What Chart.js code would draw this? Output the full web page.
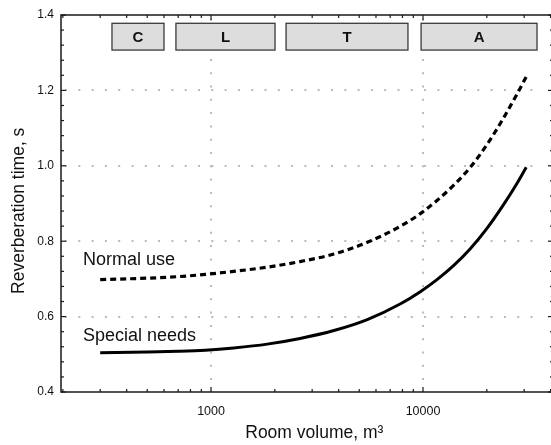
<!DOCTYPE html>
<html>
<head>
<meta charset="utf-8">
<script src="https://cdn.jsdelivr.net/npm/chart.js@4"></script>
<style>
  html, body { margin: 0; padding: 0; overflow: hidden; background: #fff; }
</style>
</head>
<body>
<canvas id="chart" width="556" height="445"></canvas>
<script>
// room volume, m3
const volumes = [300, 500, 700, 940, 1280, 1840, 2630, 3800, 5460, 7840, 9710, 11640, 13930, 16710, 20030, 23990, 27740, 30690]
// reverberation time, s
const normalUse = [0.698, 0.702, 0.706, 0.712, 0.720, 0.731, 0.746, 0.766, 0.797, 0.840, 0.873, 0.908, 0.948, 0.996, 1.056, 1.127, 1.190, 1.236]
const specialNeeds = [0.504, 0.506, 0.508, 0.511, 0.517, 0.527, 0.542, 0.563, 0.592, 0.634, 0.666, 0.698, 0.735, 0.780, 0.834, 0.897, 0.953, 0.996]

// room type bands along the top
const zoneLabels = ['C', 'L', 'T', 'A']
const zoneFrom = [341, 683, 2259, 9794]
const zoneTo = [600, 2004, 8492, 34500]
const zoneBottom = 1.307
const zoneTop = 1.378

const xTickLabels = [1000, 10000]
const yTickLabels = [0.4, 0.6, 0.8, 1.0, 1.2, 1.4]
const gridX = [1000, 10000]
const gridY = [0.6, 0.8, 1.0, 1.2]

const curveNotes = [
  { text: 'Normal use', x: 249, y: 0.75 },
  { text: 'Special needs', x: 249, y: 0.549 }
]

const font = "'Liberation Sans', Arial, sans-serif"

const decorations = {
  id: 'decorations',
  beforeDatasetsDraw (chart) {
    const { ctx, chartArea: a, scales: { x, y } } = chart
    ctx.save()
    ctx.strokeStyle = '#a9bed1'
    ctx.lineWidth = 2
    ctx.setLineDash([2, 11.3])
    gridY.forEach(v => {
      const py = Math.round(y.getPixelForValue(v))
      ctx.beginPath()
      ctx.moveTo(a.left + 4, py)
      ctx.lineTo(a.right - 14, py)
      ctx.stroke()
    })
    gridX.forEach(v => {
      const px = Math.round(x.getPixelForValue(v))
      ctx.beginPath()
      ctx.moveTo(px, a.top + 4)
      ctx.lineTo(px, a.bottom)
      ctx.stroke()
    })
    ctx.restore()
  },
  afterDatasetsDraw (chart) {
    const { ctx, chartArea: a, scales: { x, y } } = chart
    ctx.save()

    // frame
    ctx.strokeStyle = '#1a1a1a'
    ctx.lineWidth = 1.5
    ctx.strokeRect(a.left, a.top, a.right - a.left, a.bottom - a.top)

    // inward ticks
    ctx.lineWidth = 1.2
    const tick = (x1, y1, x2, y2) => {
      ctx.beginPath()
      ctx.moveTo(x1, y1)
      ctx.lineTo(x2, y2)
      ctx.stroke()
    }
    for (let e = 2; e <= 4; e++) {
      for (let m = 1; m <= 9; m++) {
        const v = m * Math.pow(10, e)
        if (v < x.min || v > x.max) continue
        const px = x.getPixelForValue(v)
        const len = m === 1 ? 5 : 3
        tick(px, a.bottom, px, a.bottom - len)
        tick(px, a.top, px, a.top + len)
      }
    }
    for (let i = 0; i <= 25; i++) {
      const v = 0.4 + i * 0.04
      const py = y.getPixelForValue(v)
      const len = i % 5 === 0 ? 5 : 3
      tick(a.left, py, a.left + len, py)
      tick(a.right, py, a.right - len, py)
    }

    // room type boxes
    const yTop = y.getPixelForValue(zoneTop)
    const yBot = y.getPixelForValue(zoneBottom)
    ctx.font = 'bold 15px ' + font
    ctx.textAlign = 'center'
    ctx.textBaseline = 'middle'
    zoneLabels.forEach((label, i) => {
      const x1 = x.getPixelForValue(zoneFrom[i])
      const x2 = x.getPixelForValue(zoneTo[i])
      ctx.fillStyle = '#dddddd'
      ctx.fillRect(x1, yTop, x2 - x1, yBot - yTop)
      ctx.strokeStyle = '#3a3a3a'
      ctx.lineWidth = 1.3
      ctx.strokeRect(x1, yTop, x2 - x1, yBot - yTop)
      ctx.fillStyle = '#111'
      ctx.fillText(label, (x1 + x2) / 2, (yTop + yBot) / 2 + 1)
    })

    // curve notes
    ctx.font = '18px ' + font
    ctx.textAlign = 'left'
    ctx.fillStyle = '#111'
    curveNotes.forEach(n => {
      ctx.fillText(n.text, x.getPixelForValue(n.x), y.getPixelForValue(n.y))
    })
    ctx.restore()
  }
}

new Chart(document.getElementById('chart'), {
  type: 'line',
  data: {
    labels: volumes,
    datasets: [
      {
        label: 'Normal use',
        data: volumes.map((v, i) => ({ x: v, y: normalUse[i] })),
        borderColor: '#000',
        borderWidth: 3.2,
        borderDash: [6, 4],
        pointRadius: 0,
        cubicInterpolationMode: 'monotone',
        fill: false
      },
      {
        label: 'Special needs',
        data: volumes.map((v, i) => ({ x: v, y: specialNeeds[i] })),
        borderColor: '#000',
        borderWidth: 3,
        pointRadius: 0,
        cubicInterpolationMode: 'monotone',
        fill: false
      }
    ]
  },
  options: {
    responsive: false,
    animation: false,
    layout: { padding: { top: 15, right: 3, left: 0, bottom: 0 } },
    plugins: {
      legend: { display: false },
      tooltip: { enabled: false }
    },
    scales: {
      x: {
        type: 'logarithmic',
        min: 196,
        max: 41040,
        afterFit (scale) { scale.height = 53 },
        afterBuildTicks (scale) { scale.ticks = xTickLabels.map(v => ({ value: v })) },
        grid: { display: false, drawTicks: false },
        border: { display: false },
        ticks: {
          autoSkip: false,
          maxRotation: 0,
          padding: 12,
          color: '#111',
          font: { family: font, size: 12.5 },
          callback: v => String(v)
        },
        title: {
          display: true,
          // leading spaces nudge the title a little right of the axis centre
          text: '   Room volume, m³',
          color: '#111',
          font: { family: font, size: 17.5 },
          padding: { top: 7, bottom: 1 }
        }
      },
      y: {
        min: 0.4,
        max: 1.4,
        afterFit (scale) { scale.width = 61 },
        afterBuildTicks (scale) { scale.ticks = yTickLabels.map(v => ({ value: v })) },
        grid: { display: false, drawTicks: false },
        border: { display: false },
        ticks: {
          padding: 7,
          color: '#111',
          font: { family: font, size: 12 },
          callback: v => Number(v).toFixed(1)
        },
        title: {
          display: true,
          text: 'Reverberation time, s   ',
          color: '#111',
          font: { family: font, size: 17.5 },
          padding: { top: 9, bottom: 4 }
        }
      }
    }
  },
  plugins: [decorations]
})
</script>
</body>
</html>
